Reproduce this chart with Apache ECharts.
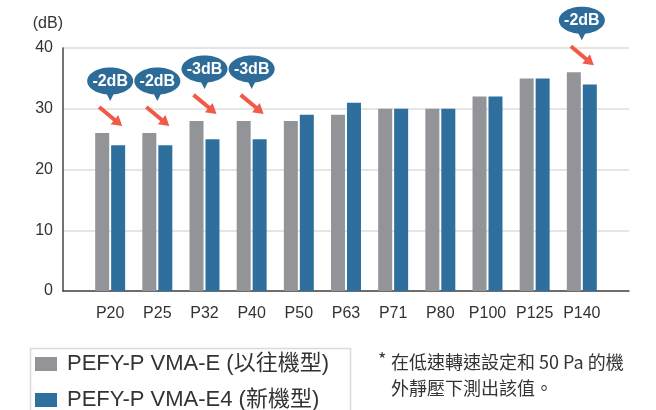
<!DOCTYPE html>
<html>
<head>
<meta charset="utf-8">
<script src="https://cdn.jsdelivr.net/npm/echarts@6/dist/echarts.min.js"></script>
<style>
  html, body { margin: 0; padding: 0; background: #fff; }
  #chart { width: 656px; height: 410px; }
</style>
</head>
<body>
<div id="chart"></div>
<script>
// Fan noise level by model size (dB)
const categories = ['P20', 'P25', 'P32', 'P40', 'P50', 'P63', 'P71', 'P80', 'P100', 'P125', 'P140'];
const previousModel = [26, 26, 28, 28, 28, 29, 30, 30, 32, 35, 36];
const newModel = [24, 24, 25, 25, 29, 31, 30, 30, 32, 35, 34];
const seriesNames = ['PEFY-P VMA-E (以往機型)', 'PEFY-P VMA-E4 (新機型)'];
const yMin = 0, yMax = 40, yStep = 10;
const unitLabel = '(dB)';
const footMark = '*';
const footnote = ['在低速轉速設定和 50 Pa 的機', '外靜壓下測出該值。'];

const FONT = '"Liberation Sans", "Noto Sans CJK TC", sans-serif';
const NOTE_FONT = '"Noto Sans CJK TC", sans-serif';
const GRAY = '#929497';
const BLUE = '#2f6f9d';
const BUBBLE = '#2d6b98';
const ARROW = '#f15a48';

// Axis carries a half-slot margin on both ends
const axisCats = [''].concat(categories, ['']);
const pad = arr => [null].concat(arr, [null]);

// Reduction callouts where the new model is quieter
const callouts = [];
categories.forEach((c, i) => {
  const diff = newModel[i] - previousModel[i];
  if (diff < 0) callouts.push([i + 1, previousModel[i], diff + 'dB']);
});

function arrowPolygon(x1, y1, x2, y2, shaft, headLen, headW) {
  const dx = x2 - x1, dy = y2 - y1, L = Math.hypot(dx, dy);
  const ux = dx / L, uy = dy / L, nx = -uy, ny = ux;
  const bx = x2 - ux * headLen, by = y2 - uy * headLen;
  return [
    [x1 + nx * shaft / 2, y1 + ny * shaft / 2],
    [bx + nx * shaft / 2, by + ny * shaft / 2],
    [bx + nx * headW / 2, by + ny * headW / 2],
    [x2, y2],
    [bx - nx * headW / 2, by - ny * headW / 2],
    [bx - nx * shaft / 2, by - ny * shaft / 2],
    [x1 - nx * shaft / 2, y1 - ny * shaft / 2]
  ];
}

function renderCallout(params, api) {
  const p = api.coord([api.value(0), api.value(1)]);
  const cx = p[0], top = p[1];
  const by = top - 52;
  return {
    type: 'group',
    children: [
      { type: 'polygon', shape: { points: [[cx - 5, by + 10], [cx + 5, by + 10], [cx, by + 20]] }, style: { fill: BUBBLE } },
      { type: 'ellipse', shape: { cx: cx, cy: by, rx: 23, ry: 13.5 }, style: { fill: BUBBLE } },
      { type: 'text', x: cx, y: by + 0.5, style: { text: api.value(2), fill: '#fff', font: 'bold 16px ' + FONT, align: 'center', verticalAlign: 'middle' } },
      { type: 'polygon', shape: { points: arrowPolygon(cx - 11, top - 26, cx + 12, top - 7, 4, 10, 12) }, style: { fill: ARROW } }
    ]
  };
}

const chart = echarts.init(document.getElementById('chart'), null, { renderer: 'canvas' });
chart.setOption({
  animation: false,
  textStyle: { fontFamily: FONT },
  grid: { left: 63, right: 27, top: 48, bottom: 119, containLabel: false },
  xAxis: {
    type: 'category',
    data: axisCats,
    boundaryGap: false,
    axisLine: { lineStyle: { color: '#444', width: 1.5 } },
    axisTick: { show: false },
    axisLabel: { interval: 0, color: '#333', fontSize: 16, margin: 15, fontFamily: FONT },
    splitLine: { show: false }
  },
  yAxis: {
    type: 'value',
    min: yMin, max: yMax, interval: yStep,
    name: unitLabel,
    nameLocation: 'end',
    nameGap: 16,
    nameTextStyle: { color: '#333', fontSize: 16, align: 'right', fontFamily: FONT },
    axisLine: { show: true, lineStyle: { color: '#444', width: 1.5 } },
    axisTick: { show: false },
    axisLabel: { color: '#333', fontSize: 16, margin: 10, fontFamily: FONT, padding: [6, 0, 0, 0] },
    splitLine: { lineStyle: { color: '#dcdcdc', width: 1.5 } }
  },
  legend: {
    orient: 'vertical',
    left: 35, top: 353, height: 80,
    padding: 0,
    itemWidth: 22, itemHeight: 14, itemGap: 14,
    icon: 'rect',
    textStyle: { fontSize: 22, lineHeight: 22, color: '#333', fontFamily: FONT, padding: [0, 0, 0, 5] },
    data: seriesNames
  },
  graphic: [
    {
      type: 'rect', left: 28, top: 346, z: 0,
      shape: { width: 320, height: 100 },
      style: { fill: 'none', stroke: '#dadada', lineWidth: 1.5 }
    },
    {
      type: 'text', left: 378, top: 350,
      style: { text: footMark, font: '18px ' + NOTE_FONT, fill: '#333' }
    },
    {
      type: 'text', left: 391, top: 349,
      style: { text: footnote.join('\n'), font: '18px ' + NOTE_FONT, fill: '#333', lineHeight: 26 }
    }
  ],
  series: [
    { name: seriesNames[0], type: 'bar', data: pad(previousModel), barWidth: 14, barGap: '14%', itemStyle: { color: GRAY } },
    { name: seriesNames[1], type: 'bar', data: pad(newModel), barWidth: 14, itemStyle: { color: BLUE } },
    { type: 'custom', data: callouts, renderItem: renderCallout, clip: false, z: 5, silent: true }
  ]
});
</script>
</body>
</html>
